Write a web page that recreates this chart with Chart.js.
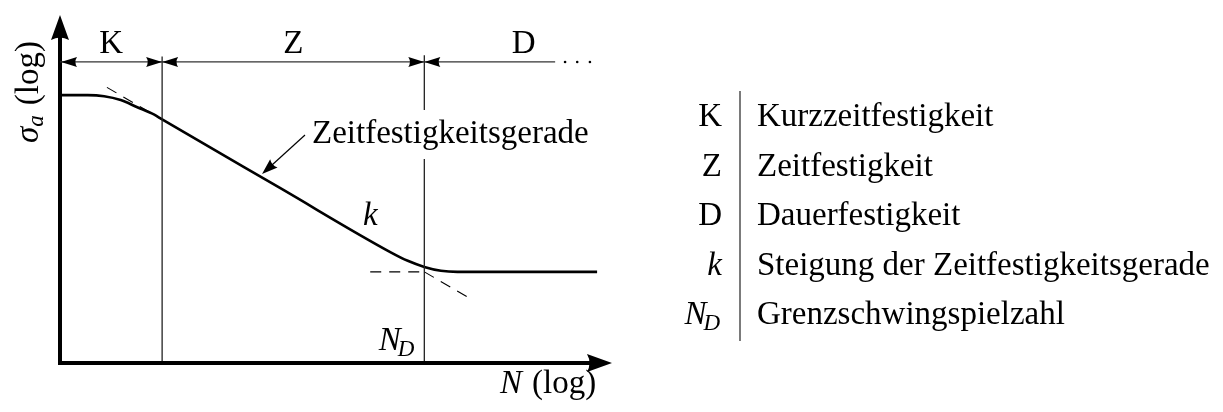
<!DOCTYPE html>
<html>
<head>
<meta charset="utf-8">
<script src="https://cdn.jsdelivr.net/npm/chart.js@4.4.1/dist/chart.umd.min.js"></script>
<style>
  html, body { margin: 0; padding: 0; background: #ffffff; }
  #wrap { width: 1223px; height: 412px; }
</style>
</head>
<body>
<div id="wrap"><canvas id="c" width="1223" height="412"></canvas></div>
<script>
// S-N (Wöhler) curve, schematic: log N on x, log sigma_a on y
const curveLogN = [0, 0.5, 0.8, 1.1, 1.4, 1.7, 1.85, 4.0, 6.0, 6.3, 6.6, 6.9, 7.2, 9.73];
const curveLogS = [4.85, 4.85, 4.83, 4.76, 4.63, 4.50, 4.41, 3.16, 2.00, 1.85, 1.74, 1.67, 1.65, 1.65];

// asymptotes (dashed continuation of the straight part and the endurance level)
const upperTangentN = [0.85, 1.85];
const upperTangentS = [4.99, 4.41];
const enduranceN = [5.62, 6.6];
const enduranceS = [1.65, 1.65];
const lowerTangentN = [6.6, 7.46];
const lowerTangentS = [1.65, 1.15];

// region borders: K | Z at N_K, Z | D at N_D
const regionBorders = [1.85, 6.6];
const borderTop = 5.55;
const regionLabels = ['K', 'Z', 'D'];
const regionLabelN = [0.925, 4.225, 8.4];
const dimLineS = 5.45;
const dimLineEnd = 8.97;
const dimDotsN = [9.15, 9.37, 9.6];

const axisMaxN = 10;
const axisMaxS = 6.3;

const legendSymbols = ['K', 'Z', 'D', 'k', 'N_D'];
const legendTexts = ['Kurzzeitfestigkeit', 'Zeitfestigkeit', 'Dauerfestigkeit',
                     'Steigung der Zeitfestigkeitsgerade', 'Grenzschwingspielzahl'];

const SERIF = '"Liberation Serif", "Times New Roman", serif';
const FS = 33;
const SUB = 23;

function pts(xs, ys) { return xs.map((x, i) => ({ x: x, y: ys[i] })); }

function arrowHead(ctx, tx, ty, ang, len, hw) {
  ctx.save();
  ctx.translate(tx, ty);
  ctx.rotate(ang);
  ctx.beginPath();
  ctx.moveTo(0, 0);
  ctx.lineTo(-len, -hw);
  ctx.quadraticCurveTo(-len * 0.8, 0, -len, hw);
  ctx.closePath();
  ctx.fill();
  ctx.restore();
}

// draws a symbol like N_D; returns width; align 'left' or 'right'
function symbolText(ctx, sym, x, y, align) {
  let main = sym, sub = null;
  if (sym.indexOf('_') >= 0) { main = sym.split('_')[0]; sub = sym.split('_')[1]; }
  const italic = (main === 'k' || main === 'N');
  ctx.font = (italic ? 'italic ' : '') + FS + 'px ' + SERIF;
  const wMain = ctx.measureText(main).width;
  let wSub = 0;
  if (sub) { ctx.font = 'italic ' + SUB + 'px ' + SERIF; wSub = ctx.measureText(sub).width; }
  const total = wMain + (sub ? wSub - 1 : 0);
  const x0 = align === 'right' ? x - total : x;
  ctx.textAlign = 'left';
  ctx.font = (italic ? 'italic ' : '') + FS + 'px ' + SERIF;
  ctx.fillText(main, x0, y);
  if (sub) {
    ctx.font = 'italic ' + SUB + 'px ' + SERIF;
    ctx.fillText(sub, x0 + wMain - 3, y + 6);
  }
  return total;
}

const overlay = {
  id: 'overlay',
  afterDatasetsDraw(chart) {
    const ctx = chart.ctx;
    const xs = chart.scales.x, ys = chart.scales.y;
    const X = v => xs.getPixelForValue(v);
    const Y = v => ys.getPixelForValue(v);
    const x0 = X(0), y0 = Y(0);
    ctx.save();
    ctx.fillStyle = '#000';
    ctx.strokeStyle = '#000';
    ctx.textBaseline = 'alphabetic';

    // axes
    ctx.lineWidth = 4;
    ctx.lineCap = 'butt';
    ctx.beginPath();
    ctx.moveTo(x0, y0 + 2);
    ctx.lineTo(x0, Y(axisMaxS) + 20);
    ctx.moveTo(x0 - 2, y0);
    ctx.lineTo(X(axisMaxN) - 20, y0);
    ctx.stroke();
    arrowHead(ctx, x0, Y(axisMaxS), -Math.PI / 2, 25, 9);
    arrowHead(ctx, X(axisMaxN), y0, 0, 25, 9);

    // dimension line with arrows
    const dy = Y(dimLineS);
    ctx.strokeStyle = '#333';
    ctx.fillStyle = '#000';
    ctx.lineWidth = 1.3;
    ctx.beginPath();
    ctx.moveTo(x0, dy);
    ctx.lineTo(X(dimLineEnd), dy);
    ctx.stroke();
    arrowHead(ctx, x0 + 1, dy, Math.PI, 16, 5);
    regionBorders.forEach(b => {
      arrowHead(ctx, X(b), dy, 0, 16, 5);
      arrowHead(ctx, X(b), dy, Math.PI, 16, 5);
    });
    dimDotsN.forEach(d => {
      ctx.beginPath();
      ctx.arc(X(d), dy, 1.3, 0, Math.PI * 2);
      ctx.fill();
    });

    // region letters
    ctx.font = FS + 'px ' + SERIF;
    ctx.textAlign = 'center';
    regionLabels.forEach((t, i) => ctx.fillText(t, X(regionLabelN[i]), dy - 9));

    // label of the straight line, knocked out over the border line
    ctx.font = FS + 'px ' + SERIF;
    const lbl = 'Zeitfestigkeitsgerade';
    const lw = ctx.measureText(lbl).width;
    const lx = 312, lb = 143;
    ctx.fillStyle = '#fff';
    ctx.fillRect(lx - 3, lb - 33, lw + 6, 49);
    ctx.fillStyle = '#000';
    ctx.textAlign = 'left';
    ctx.fillText(lbl, lx, lb);

    // pointer arrow to the curve
    const tipN = 3.66, tipS = 3.42;
    ctx.strokeStyle = '#000';
    ctx.lineWidth = 1.2;
    const ax = 305, ay = 135, tx = X(tipN), ty = Y(tipS);
    const ang = Math.atan2(ty - ay, tx - ax);
    ctx.beginPath();
    ctx.moveTo(ax, ay);
    ctx.lineTo(tx - Math.cos(ang) * 12, ty - Math.sin(ang) * 12);
    ctx.stroke();
    arrowHead(ctx, tx, ty, ang, 16, 5.5);

    // slope label k
    ctx.font = 'italic ' + FS + 'px ' + SERIF;
    ctx.fillText('k', X(5.49), Y(2.5));

    // N_D at the border
    symbolText(ctx, 'N_D', X(regionBorders[1]) - 8, y0 - 13, 'right');

    // axis titles
    ctx.font = 'italic ' + FS + 'px ' + SERIF;
    ctx.fillText('N', 500, 393);
    ctx.font = FS + 'px ' + SERIF;
    ctx.fillText('(log)', 532, 393);

    ctx.save();
    ctx.translate(38, 92);
    ctx.rotate(-Math.PI / 2);
    ctx.font = 'italic ' + FS + 'px ' + SERIF;
    const wSig = ctx.measureText('σ').width;
    ctx.font = 'italic ' + SUB + 'px ' + SERIF;
    const wA = ctx.measureText('a').width;
    ctx.font = FS + 'px ' + SERIF;
    const wLog = ctx.measureText('(log)').width;
    const tot = wSig + wA + 10 + wLog;
    let px = -tot / 2;
    ctx.font = 'italic ' + FS + 'px ' + SERIF;
    ctx.fillText('σ', px, 0);
    px += wSig;
    ctx.font = 'italic ' + SUB + 'px ' + SERIF;
    ctx.fillText('a', px, 5);
    px += wA + 10;
    ctx.font = FS + 'px ' + SERIF;
    ctx.fillText('(log)', px, 0);
    ctx.restore();

    // symbol table
    const barX = 740, symRight = 722, textLeft = 757, firstBase = 126, step = 49.5;
    ctx.strokeStyle = '#333';
    ctx.lineWidth = 1.3;
    ctx.beginPath();
    ctx.moveTo(barX, 91);
    ctx.lineTo(barX, 341);
    ctx.stroke();
    legendSymbols.forEach((s, i) => {
      const by = firstBase + step * i;
      symbolText(ctx, s, symRight, by, 'right');
      ctx.font = FS + 'px ' + SERIF;
      ctx.textAlign = 'left';
      ctx.fillText(legendTexts[i], textLeft, by);
    });
    ctx.restore();
  }
};

const thin = { borderColor: '#222', borderWidth: 1.3, pointRadius: 0, showLine: true, fill: false };
const dashed = { borderColor: '#000', borderWidth: 1.1, borderDash: [11, 8], pointRadius: 0, showLine: true, fill: false };

new Chart(document.getElementById('c'), {
  type: 'scatter',
  data: {
    datasets: [
      Object.assign({ label: 'N_K', data: pts([regionBorders[0], regionBorders[0]], [0, borderTop]) }, thin),
      Object.assign({ label: 'N_D', data: pts([regionBorders[1], regionBorders[1]], [0, borderTop + 0.02]) }, thin),
      Object.assign({ label: 'upper tangent', data: pts(upperTangentN, upperTangentS) }, dashed),
      Object.assign({ label: 'endurance level', data: pts(enduranceN, enduranceS) }, dashed),
      Object.assign({ label: 'lower tangent', data: pts(lowerTangentN, lowerTangentS) }, dashed),
      {
        label: 'Wöhlerlinie',
        data: pts(curveLogN, curveLogS),
        showLine: true,
        borderColor: '#000',
        borderWidth: 2.6,
        pointRadius: 0,
        cubicInterpolationMode: 'monotone',
        fill: false
      }
    ]
  },
  options: {
    responsive: false,
    animation: false,
    devicePixelRatio: 1,
    layout: { padding: { left: 60, right: 611, top: 15, bottom: 49 } },
    plugins: { legend: { display: false }, tooltip: { enabled: false } },
    datasets: { scatter: { clip: false } },
    scales: {
      x: { type: 'linear', min: 0, max: axisMaxN, display: false },
      y: { type: 'linear', min: 0, max: axisMaxS, display: false }
    }
  },
  plugins: [overlay]
});
</script>
</body>
</html>
